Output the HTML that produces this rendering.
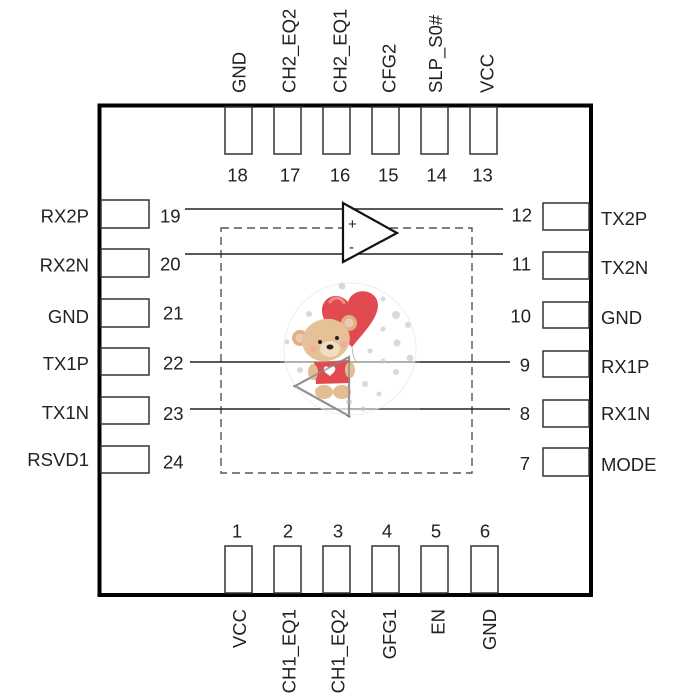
<!DOCTYPE html>
<html><head><meta charset="utf-8"><style>
html,body{margin:0;padding:0;background:#fff;}
svg{display:block;}
text{font-family:"Liberation Sans",Arial,sans-serif;font-size:18.5px;fill:#222;}
</style></head><body>
<svg width="700" height="700" viewBox="0 0 700 700" xmlns="http://www.w3.org/2000/svg">
<rect x="0" y="0" width="700" height="700" fill="#fff"/>
<!-- dashed box -->
<rect x="221" y="228" width="251" height="245" fill="none" stroke="#555" stroke-width="1.4" stroke-dasharray="8,5"/>
<!-- signal lines -->
<g stroke="#222" stroke-width="1.4">
<line x1="185" y1="209" x2="503" y2="209"/>
<line x1="185" y1="254" x2="503" y2="254"/>
<line x1="190" y1="362" x2="510" y2="362"/>
<line x1="190" y1="409" x2="510" y2="409"/>
</g>
<!-- opamp 1 -->
<polygon points="343,203 343,262 397,233" fill="#fff" stroke="#111" stroke-width="2.2"/>
<text x="348" y="229" style="font-size:15px">+</text>
<text x="349" y="252" style="font-size:15px">-</text>
<!-- opamp 2 -->
<polygon points="349,357 349,416 295,386" fill="#fff" stroke="#222" stroke-width="2.2"/>
<!-- chip outline -->
<rect x="99.5" y="105.5" width="491.5" height="489.5" fill="none" stroke="#000" stroke-width="4"/>
<!-- pins -->
<g fill="#fff" stroke="#333" stroke-width="1.5">
<rect x="225" y="107" width="27" height="47"/>
<rect x="274" y="107" width="27" height="47"/>
<rect x="323" y="107" width="27" height="47"/>
<rect x="372" y="107" width="27" height="47"/>
<rect x="421" y="107" width="27" height="47"/>
<rect x="470" y="107" width="27" height="47"/>

<rect x="225" y="546" width="27" height="47"/>
<rect x="274" y="546" width="27" height="47"/>
<rect x="323" y="546" width="27" height="47"/>
<rect x="372" y="546" width="27" height="47"/>
<rect x="421" y="546" width="27" height="47"/>
<rect x="471" y="546" width="27" height="47"/>

<rect x="101" y="200" width="48" height="28"/>
<rect x="101" y="249" width="48" height="28"/>
<rect x="101" y="299" width="48" height="28"/>
<rect x="101" y="348" width="48" height="27"/>
<rect x="101" y="397" width="48" height="27"/>
<rect x="101" y="446" width="48" height="27"/>

<rect x="543" y="203" width="46" height="27"/>
<rect x="543" y="252" width="46" height="27"/>
<rect x="543" y="302" width="46" height="26"/>
<rect x="543" y="351" width="46" height="26"/>
<rect x="543" y="400" width="46" height="27"/>
<rect x="543" y="448" width="46" height="28"/>
</g>
<!-- top labels -->
<g text-anchor="start">
<text transform="translate(245.7,93) rotate(-90)">GND</text>
<text transform="translate(295.7,93) rotate(-90)">CH2_EQ2</text>
<text transform="translate(346.7,93) rotate(-90)">CH2_EQ1</text>
<text transform="translate(395.7,93) rotate(-90)">CFG2</text>
<text transform="translate(442.2,93) rotate(-90)">SLP_S0#</text>
<text transform="translate(493.7,93) rotate(-90)">VCC</text>
</g>
<!-- bottom labels -->
<g text-anchor="end">
<text transform="translate(246,609) rotate(-90)">VCC</text>
<text transform="translate(295.7,609) rotate(-90)">CH1_EQ1</text>
<text transform="translate(344.5,609) rotate(-90)">CH1_EQ2</text>
<text transform="translate(396,609) rotate(-90)">GFG1</text>
<text transform="translate(444.3,609) rotate(-90)">EN</text>
<text transform="translate(495.8,609) rotate(-90)">GND</text>
</g>
<!-- top numbers -->
<g text-anchor="middle">
<text x="237.5" y="181.5">18</text>
<text x="290" y="181.5">17</text>
<text x="340" y="181.5">16</text>
<text x="388.3" y="181.5">15</text>
<text x="436.7" y="181.5">14</text>
<text x="482.5" y="181.5">13</text>
<text x="237" y="537.5">1</text>
<text x="288" y="537.5">2</text>
<text x="338" y="537.5">3</text>
<text x="387" y="537.5">4</text>
<text x="436" y="537.5">5</text>
<text x="485" y="537.5">6</text>
</g>
<!-- left labels -->
<g text-anchor="end">
<text x="89" y="222.5">RX2P</text>
<text x="89" y="271.5">RX2N</text>
<text x="89" y="323">GND</text>
<text x="89" y="370">TX1P</text>
<text x="89" y="419">TX1N</text>
<text x="89" y="466">RSVD1</text>
</g>
<g text-anchor="start">
<text x="160" y="222.3">19</text>
<text x="160" y="270.7">20</text>
<text x="163" y="319.3">21</text>
<text x="163" y="369.3">22</text>
<text x="163" y="420">23</text>
<text x="163" y="468.3">24</text>
</g>
<!-- right labels -->
<g text-anchor="start">
<text x="601" y="225">TX2P</text>
<text x="601" y="274">TX2N</text>
<text x="601" y="324">GND</text>
<text x="601" y="373">RX1P</text>
<text x="601" y="420">RX1N</text>
<text x="601" y="471">MODE</text>
</g>
<g text-anchor="end">
<text x="532" y="221.7">12</text>
<text x="531" y="270.7">11</text>
<text x="531" y="322.7">10</text>
<text x="530" y="371.7">9</text>
<text x="530" y="420">8</text>
<text x="530" y="470">7</text>
</g>
<!-- bear overlay -->
<circle cx="350" cy="349" r="66" fill="#fff" fill-opacity="0.62" stroke="#eee" stroke-width="1"/>
<g fill="#d9d9d9">
<circle cx="342" cy="286" r="3.5"/><circle cx="383" cy="299" r="2.5"/><circle cx="396" cy="315" r="4"/>
<circle cx="309" cy="314" r="3"/><circle cx="383" cy="329" r="2.5"/><circle cx="397" cy="343" r="3.5"/>
<circle cx="408" cy="325" r="3"/><circle cx="370" cy="351" r="2.5"/><circle cx="383" cy="361" r="2.5"/>
<circle cx="396" cy="372" r="3"/><circle cx="410" cy="358" r="3.5"/><circle cx="365" cy="384" r="3"/>
<circle cx="379" cy="394" r="2.5"/><circle cx="287" cy="342" r="2.5"/><circle cx="300" cy="370" r="3"/>
<circle cx="363" cy="409" r="2.5"/><circle cx="349" cy="402" r="3"/>
</g>
<!-- balloon string -->
<path d="M352 344 Q352 355 356 362" stroke="#bbb" stroke-width="1" fill="none"/>
<!-- heart balloon -->
<path d="M352 347 C338 334 322 326 322 310 C322 297 338 290 348 302 C352 288 372 288 377 300 C382 314 366 330 352 347 Z" fill="#e04a50"/>
<path d="M330 302 C334 296 341 297 344 303" stroke="#f38a8d" stroke-width="3" fill="none" stroke-linecap="round"/>
<!-- bear legs -->
<ellipse cx="324" cy="392" rx="9" ry="7" fill="#e3bd92"/>
<ellipse cx="342" cy="392" rx="9" ry="7" fill="#e3bd92"/>
<!-- body shirt -->
<path d="M314 362 L350 360 L350 383 L316 384 Z" fill="#e14b4f"/>
<path d="M329 368 C326 364 321 368 326 373 L330 376 L334 372 C338 367 332 364 329 368Z" fill="#fff"/>
<!-- arms -->
<ellipse cx="313" cy="372" rx="5" ry="8" fill="#e3bd92"/>
<ellipse cx="350" cy="370" rx="5" ry="8" fill="#e3bd92"/>
<!-- ears -->
<circle cx="300" cy="338" r="8" fill="#dcb184"/>
<circle cx="300" cy="338" r="4.5" fill="#f0c7b3"/>
<circle cx="349" cy="323" r="8" fill="#dcb184"/>
<circle cx="349" cy="323" r="4.5" fill="#f0c7b3"/>
<!-- head -->
<ellipse cx="326" cy="340" rx="24" ry="21" fill="#e6c197" transform="rotate(-15 326 340)"/>
<ellipse cx="330" cy="349" rx="10" ry="8" fill="#f3dcc0"/>
<circle cx="320" cy="342" r="2" fill="#222"/>
<circle cx="337" cy="338" r="2" fill="#222"/>
<ellipse cx="330" cy="347" rx="3.5" ry="2.5" fill="#222"/>
<circle cx="313" cy="349" r="3.5" fill="#f2a5a0" fill-opacity="0.7"/>
<circle cx="344" cy="344" r="3.5" fill="#f2a5a0" fill-opacity="0.7"/>
<!-- faded lines across bear -->
<g stroke="#888" stroke-width="1.3" stroke-opacity="0.55">
<line x1="280" y1="362" x2="420" y2="362"/>
<line x1="280" y1="409" x2="420" y2="409"/>
</g>
<polygon points="349,357 349,416 295,386" fill="none" stroke="#888" stroke-opacity="0.7" stroke-width="2"/>
</svg>
</body></html>
